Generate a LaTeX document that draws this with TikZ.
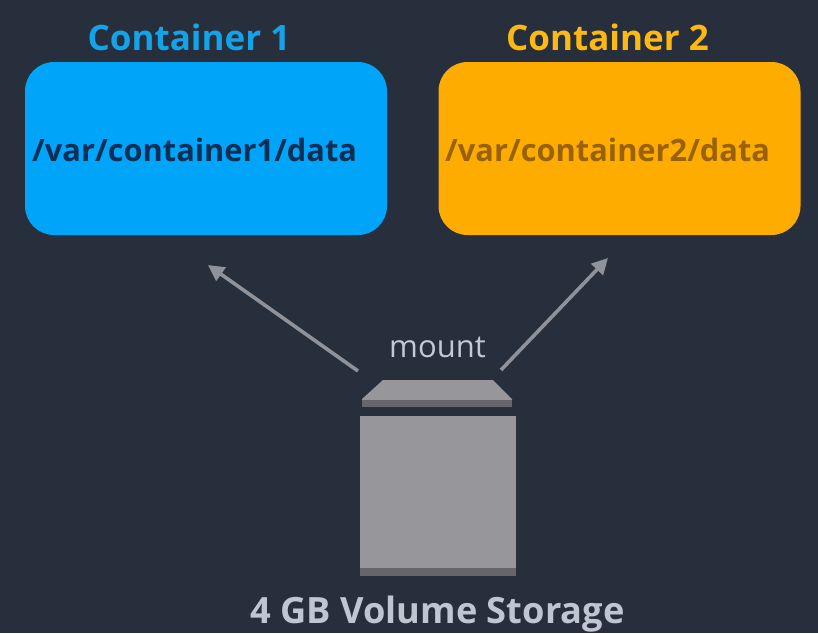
\documentclass[tikz,border=0pt]{standalone}
\usepackage{fontspec}
\setmainfont{Open Sans}
\usetikzlibrary{arrows.meta}
\definecolor{bgc}{HTML}{272E3C}
\definecolor{blueb}{HTML}{00A4F9}
\definecolor{bluet}{HTML}{14A3E8}
\definecolor{orangeb}{HTML}{FFAC00}
\definecolor{oranget}{HTML}{FDB813}
\definecolor{bluepath}{HTML}{0B2F55}
\definecolor{orangepath}{HTML}{9A6208}
\definecolor{greyb}{HTML}{97979B}
\definecolor{greyd}{HTML}{66666A}
\definecolor{arrowc}{HTML}{8F929A}
\definecolor{mountc}{HTML}{C3CAD6}
\definecolor{storec}{HTML}{BFC6D2}
\tikzset{
 box/.style={rounded corners=29pt,inner sep=0pt,minimum width=362pt,minimum height=173pt},
 head/.style={inner sep=0pt,anchor=base,font=\bfseries\fontsize{35}{38}\selectfont},
 pathtext/.style={inner sep=0pt,anchor=base west,font=\bfseries\fontsize{30.8}{33}\selectfont},
 conn/.style={draw=arrowc,line width=3.6pt,-{Triangle[length=16pt,width=16pt]}},
}
\begin{document}
\begin{tikzpicture}[x=1pt,y=-1pt]
\useasboundingbox (0,0) rectangle (818,633);
\fill[bgc] (0,0) rectangle (818,633);
\node[box,fill=blueb] (c1) at (206,148.5) {};
\node[box,fill=orangeb] (c2) at (619.5,148.5) {};
\node[head,text=bluet] (t1) at (189,50) {Container 1};
\node[head,text=oranget] (t2) at (607.5,50) {Container 2};
\node[pathtext,text=bluepath] (p1) at (32,161) {/var/container1/data};
\node[pathtext,text=orangepath] (p2) at (445,161) {/var/container2/data};
\node[inner sep=0pt,anchor=base,text=mountc,font=\fontsize{31}{34}\selectfont] (m) at (437.5,357) {mount};
\fill[greyb] (383,380) -- (493,380) -- (512,399) -- (512,400) -- (362,400) -- (362,399) -- cycle;
\fill[greyd] (362,400) rectangle (512,407);
\fill[greyb] (360,416) rectangle (516,568);
\fill[greyd] (360,568) rectangle (516,576);
\node[inner sep=0pt,anchor=base,text=storec,font=\bfseries\fontsize{36.2}{39}\selectfont] (s) at (437.5,623) {4 GB Volume Storage};
\coordinate (a1s) at (358,371);
\coordinate (a1e) at (208,265);
\coordinate (a2s) at (501,370);
\coordinate (a2e) at (608,258);
\draw[conn] (a1s) -- (a1e);
\draw[conn] (a2s) -- (a2e);
\end{tikzpicture}
\end{document}
